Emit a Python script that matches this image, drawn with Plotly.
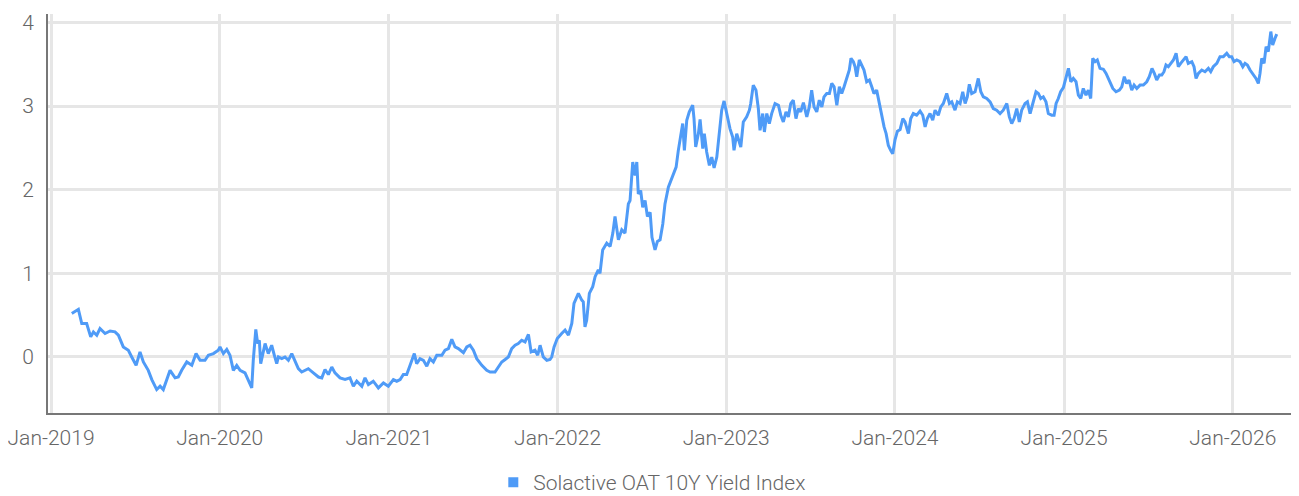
import pandas as pd
import plotly.graph_objects as go

series_name = "Solactive OAT 10Y Yield Index"

# decimal-year positions
t_years = [
2019.123,2019.162,2019.182,2019.211,2019.235,2019.251,2019.271,2019.290,2019.320,2019.350,2019.379,2019.399,2019.428,2019.458,2019.478,2019.504,2019.527,2019.547,2019.576,2019.597,2019.626,2019.646,2019.665,2019.685,2019.705,2019.735,2019.754,2019.774,2019.804,2019.834,2019.859,2019.883,2019.912,2019.932,2019.962,2019.991,
2020.001,2020.021,2020.041,2020.060,2020.080,2020.100,2020.120,2020.149,2020.169,2020.189,2020.198,2020.213,2020.224,2020.234,2020.242,2020.258,2020.268,2020.287,2020.307,2020.323,2020.337,2020.347,2020.367,2020.386,2020.406,2020.426,2020.446,2020.465,2020.485,2020.505,2020.524,2020.554,2020.584,2020.604,2020.623,2020.643,2020.663,2020.682,2020.712,2020.742,2020.771,2020.791,2020.811,2020.841,2020.860,2020.880,2020.909,2020.939,2020.969,2020.998,
2021.028,2021.048,2021.068,2021.087,2021.107,2021.127,2021.152,2021.166,2021.186,2021.206,2021.226,2021.245,2021.265,2021.285,2021.315,2021.334,2021.354,2021.374,2021.393,2021.413,2021.443,2021.463,2021.482,2021.502,2021.522,2021.552,2021.581,2021.601,2021.630,2021.650,2021.670,2021.690,2021.709,2021.729,2021.749,2021.768,2021.788,2021.808,2021.828,2021.844,2021.867,2021.883,2021.897,2021.916,2021.937,2021.956,2021.966,2021.980,2021.999,
2022.025,2022.045,2022.065,2022.085,2022.098,2022.124,2022.144,2022.153,2022.163,2022.173,2022.189,2022.209,2022.223,2022.242,2022.252,2022.268,2022.292,2022.312,2022.328,2022.341,2022.361,2022.381,2022.400,2022.420,2022.430,2022.446,2022.460,2022.470,2022.479,2022.493,2022.505,2022.519,2022.533,2022.549,2022.560,2022.578,2022.592,2022.608,2022.624,2022.637,2022.657,2022.671,2022.687,2022.703,2022.716,2022.730,2022.742,2022.752,2022.766,2022.781,2022.801,2022.809,2022.819,2022.835,2022.845,2022.861,2022.870,2022.884,2022.900,2022.914,2022.928,2022.944,2022.959,2022.973,2022.987,
2023.003,2023.022,2023.038,2023.046,2023.062,2023.072,2023.086,2023.101,2023.121,2023.137,2023.145,2023.160,2023.176,2023.190,2023.200,2023.216,2023.226,2023.240,2023.255,2023.269,2023.289,2023.309,2023.323,2023.338,2023.354,2023.368,2023.382,2023.397,2023.413,2023.427,2023.441,2023.457,2023.477,2023.492,2023.506,2023.520,2023.536,2023.551,2023.566,2023.579,2023.595,2023.611,2023.625,2023.639,2023.655,2023.670,2023.684,2023.698,2023.714,2023.729,2023.739,2023.753,2023.763,2023.773,2023.788,2023.803,2023.816,2023.832,2023.848,2023.862,2023.875,2023.891,2023.907,2023.921,2023.935,2023.947,2023.960,2023.974,2023.986,
2024.000,2024.014,2024.030,2024.046,2024.059,2024.079,2024.093,2024.108,2024.128,2024.148,2024.164,2024.178,2024.191,2024.207,2024.223,2024.237,2024.256,2024.271,2024.286,2024.306,2024.322,2024.336,2024.355,2024.369,2024.385,2024.401,2024.415,2024.428,2024.440,2024.454,2024.474,2024.493,2024.508,2024.523,2024.543,2024.563,2024.582,2024.602,2024.622,2024.641,2024.662,2024.677,2024.691,2024.705,2024.721,2024.736,2024.750,2024.770,2024.784,2024.800,2024.816,2024.835,2024.849,2024.863,2024.878,2024.894,2024.908,2024.928,2024.942,2024.954,2024.967,2024.981,2024.997,
2025.013,2025.027,2025.041,2025.056,2025.072,2025.086,2025.100,2025.115,2025.131,2025.145,2025.159,2025.171,2025.185,2025.198,2025.214,2025.234,2025.250,2025.269,2025.290,2025.309,2025.329,2025.343,2025.358,2025.372,2025.386,2025.402,2025.416,2025.432,2025.451,2025.471,2025.491,2025.506,2025.522,2025.536,2025.550,2025.566,2025.580,2025.593,2025.605,2025.619,2025.633,2025.649,2025.665,2025.678,2025.692,2025.708,2025.724,2025.737,2025.758,2025.771,2025.783,2025.797,2025.817,2025.836,2025.856,2025.870,2025.885,2025.906,2025.925,2025.945,2025.965,2025.980,2025.994,
2026.008,2026.024,2026.044,2026.060,2026.073,2026.087,2026.103,2026.119,2026.138,2026.152,2026.162,2026.172,2026.186,2026.198,2026.211,2026.226,2026.237,2026.251,2026.261,
]

yields = [
0.52,0.57,0.40,0.40,0.24,0.30,0.26,0.34,0.28,0.31,0.30,0.26,0.12,0.08,0.00,-0.10,0.06,-0.06,-0.16,-0.27,-0.39,-0.35,-0.39,-0.27,-0.16,-0.25,-0.24,-0.16,-0.06,-0.10,0.04,-0.04,-0.04,0.02,0.04,0.08,
0.12,0.04,0.09,0.02,-0.16,-0.10,-0.16,-0.19,-0.29,-0.37,-0.04,0.33,0.16,0.20,-0.08,0.08,0.16,0.04,0.14,0.02,-0.08,0.00,-0.02,0.00,-0.04,0.04,-0.06,-0.14,-0.18,-0.16,-0.14,-0.19,-0.24,-0.25,-0.15,-0.21,-0.12,-0.19,-0.25,-0.27,-0.25,-0.35,-0.29,-0.35,-0.25,-0.33,-0.29,-0.37,-0.31,-0.35,
-0.27,-0.29,-0.27,-0.21,-0.21,-0.10,0.04,-0.08,-0.02,-0.04,-0.11,-0.02,-0.06,0.02,0.02,0.08,0.10,0.21,0.12,0.10,0.05,0.12,0.14,0.08,-0.02,-0.10,-0.16,-0.18,-0.18,-0.12,-0.06,-0.03,0.00,0.10,0.14,0.16,0.20,0.18,0.27,0.06,0.08,0.02,0.14,0.00,-0.04,-0.03,0.00,0.12,0.22,
0.28,0.32,0.26,0.40,0.64,0.76,0.68,0.66,0.36,0.44,0.76,0.84,0.96,1.04,1.00,1.28,1.36,1.32,1.48,1.68,1.40,1.52,1.48,1.83,1.87,2.33,2.17,2.33,1.95,1.99,1.79,1.87,1.68,1.73,1.43,1.28,1.38,1.40,1.59,1.83,2.03,2.11,2.19,2.27,2.47,2.67,2.79,2.47,2.83,2.93,3.01,2.85,2.51,2.67,2.84,2.49,2.67,2.45,2.29,2.39,2.26,2.39,2.71,2.95,3.06,
2.91,2.73,2.63,2.47,2.67,2.61,2.51,2.81,2.87,2.95,3.03,3.25,3.19,2.97,2.71,2.91,2.69,2.91,2.79,2.91,3.03,3.01,2.89,2.81,2.93,2.87,3.03,3.07,2.85,2.97,2.93,3.04,2.87,2.99,3.19,2.99,2.93,3.07,2.99,3.11,3.15,3.15,3.27,3.23,3.01,3.23,3.15,3.23,3.33,3.43,3.57,3.53,3.47,3.35,3.55,3.49,3.43,3.29,3.31,3.23,3.15,3.19,3.03,2.87,2.75,2.67,2.53,2.47,2.43,
2.60,2.70,2.72,2.85,2.81,2.67,2.85,2.91,2.89,2.94,2.89,2.75,2.85,2.91,2.83,2.95,2.89,2.99,3.03,3.15,3.03,3.05,2.95,3.05,3.03,3.17,3.03,3.11,3.26,3.15,3.17,3.33,3.17,3.11,3.09,3.05,2.97,2.95,2.91,2.95,3.03,2.87,2.79,2.85,2.97,2.81,2.95,3.03,3.05,2.91,3.03,3.17,3.15,3.09,3.11,3.05,2.91,2.89,2.89,3.03,3.09,3.17,3.22,
3.35,3.45,3.29,3.33,3.29,3.13,3.09,3.21,3.13,3.19,3.09,3.57,3.53,3.55,3.45,3.44,3.39,3.31,3.21,3.17,3.19,3.23,3.35,3.27,3.31,3.19,3.25,3.21,3.25,3.25,3.29,3.35,3.45,3.39,3.31,3.37,3.37,3.41,3.49,3.47,3.51,3.55,3.63,3.47,3.51,3.55,3.59,3.51,3.53,3.47,3.33,3.39,3.43,3.41,3.45,3.41,3.47,3.51,3.59,3.59,3.63,3.59,3.59,
3.53,3.55,3.53,3.47,3.51,3.49,3.43,3.39,3.33,3.27,3.39,3.57,3.51,3.71,3.65,3.89,3.73,3.81,3.86,
]

x_ticks = ["2019-01-01","2020-01-01","2021-01-01","2022-01-01","2023-01-01","2024-01-01","2025-01-01","2026-01-01"]
x_tick_labels = ["Jan-2019","Jan-2020","Jan-2021","Jan-2022","Jan-2023","Jan-2024","Jan-2025","Jan-2026"]
y_ticks = [0, 1, 2, 3, 4]

base = pd.Timestamp("2019-01-01")

def yr(t):
    return base + pd.Timedelta(days=(t - 2019) * 365.25)

dates = [yr(t) for t in t_years]

color = "#4f9bf7"
font_family = "Roboto, sans-serif"
text_font = dict(family=font_family, size=21, color="#666666", weight=300)

fig = go.Figure()
fig.add_trace(go.Scatter(x=dates, y=yields, mode="lines", name=series_name,
                         line=dict(color=color, width=3), showlegend=False))
fig.add_trace(go.Scatter(x=[None], y=[None], mode="markers", name=series_name,
                         marker=dict(symbol="square", size=10, color=color), showlegend=True))

# the page body has an 8px default margin, so the figure sits 8px right/down
fig.update_layout(
    width=1299, height=496,
    margin=dict(l=40, r=9, t=6, b=91, autoexpand=False),
    paper_bgcolor="white", plot_bgcolor="white",
    font=text_font,
    showlegend=True,
    legend=dict(orientation="h", xref="container", yref="container",
                x=0.496, xanchor="center", y=0.002, yanchor="bottom",
                font=text_font, itemwidth=30,
                tracegroupgap=0, bgcolor="rgba(0,0,0,0)"),
    xaxis=dict(type="date", range=[yr(2018.982), yr(2026.387)],
               tickvals=x_ticks, ticktext=x_tick_labels, tickfont=text_font,
               showgrid=True, gridcolor="#e6e6e6", gridwidth=2.5,
               showline=True, linecolor="#777777", linewidth=2,
               ticks="", ticklabelstandoff=5, ticklabeloverflow="allow",
               zeroline=False, automargin=False),
    yaxis=dict(range=[-0.67, 4.10], tickvals=y_ticks, tickfont=text_font,
               showgrid=True, gridcolor="#e6e6e6", gridwidth=2.5,
               showline=True, linecolor="#777777", linewidth=2,
               ticks="", ticklabelstandoff=8, ticklabeloverflow="allow",
               zeroline=False, automargin=False),
)

fig.write_html("out.html")
